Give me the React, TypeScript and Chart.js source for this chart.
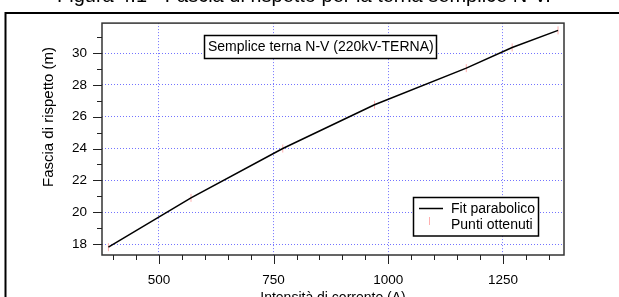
import React, { useEffect, useRef } from 'react';
import { Chart, registerables } from 'chart.js';

Chart.register(...registerables);

// ---- data ----
const currentA = [390, 570, 770, 970, 1170, 1270, 1370];
const fasciaM = [17.8, 20.9, 24.0, 26.75, 29.05, 30.35, 31.42];

const xTicks = [400, 450, 500, 550, 600, 650, 700, 750, 800, 850, 900, 950, 1000, 1050, 1100, 1150, 1200, 1250, 1300, 1350];
const xLabelTicks = [500, 750, 1000, 1250];
const yTicks = [18, 19, 20, 21, 22, 23, 24, 25, 26, 27, 28, 29, 30, 31];
const yLabelTicks = [18, 20, 22, 24, 26, 28, 30];

const pageTitle = 'Figura 4.1 - Fascia di rispetto per la terna semplice N-V.';
const boxTitle = 'Semplice terna N-V (220kV-TERNA)';
const legendLabels = ['Fit parabolico', 'Punti ottenuti'];
const xTitle = 'Intensità di corrente (A)';
const yTitle = 'Fascia di rispetto (m)';

const FONT = '"Liberation Sans", Arial, sans-serif';
const GRID_BLUE = 'rgba(90,90,255,0.85)';
const POINT_PINK = '#ffb0b0';

const decorPlugin = {
  id: 'decor',
  beforeDraw(chart: any) {
    const ctx = chart.ctx;
    ctx.save();
    ctx.fillStyle = '#fff';
    ctx.fillRect(0, 0, chart.width, chart.height);
    // outer frame lines
    ctx.strokeStyle = '#000';
    ctx.lineWidth = 2;
    ctx.beginPath();
    ctx.moveTo(4.5, 13);
    ctx.lineTo(chart.width, 13);
    ctx.moveTo(5.5, 12);
    ctx.lineTo(5.5, chart.height);
    ctx.stroke();
    // cut-off page title
    ctx.fillStyle = '#000';
    ctx.font = '20px ' + FONT;
    ctx.textAlign = 'left';
    ctx.textBaseline = 'alphabetic';
    ctx.fillText(pageTitle, 57, 1.5);
    ctx.restore();
  },
  afterDraw(chart: any) {
    const ctx = chart.ctx;
    const xs = chart.scales.x;
    const ys = chart.scales.y;
    const a = chart.chartArea;
    ctx.save();
    // plot frame
    ctx.strokeStyle = '#333';
    ctx.lineWidth = 1.5;
    ctx.strokeRect(a.left, a.top, a.right - a.left, a.bottom - a.top);
    // tick marks
    ctx.lineWidth = 1;
    ctx.strokeStyle = '#222';
    ctx.beginPath();
    xTicks.forEach((v) => {
      const px = Math.round(xs.getPixelForValue(v)) + 0.5;
      const len = xLabelTicks.includes(v) ? 9 : 5;
      ctx.moveTo(px, a.bottom);
      ctx.lineTo(px, a.bottom + len);
    });
    yTicks.forEach((v) => {
      const py = Math.round(ys.getPixelForValue(v)) + 0.5;
      const len = yLabelTicks.includes(v) ? 9 : 5;
      ctx.moveTo(a.left, py);
      ctx.lineTo(a.left - len, py);
    });
    ctx.stroke();

    // title box
    ctx.fillStyle = '#fff';
    ctx.fillRect(204.5, 35.5, 232, 23);
    ctx.strokeStyle = '#000';
    ctx.lineWidth = 1.5;
    ctx.strokeRect(204.5, 35.5, 232, 23);
    ctx.fillStyle = '#000';
    ctx.font = '14px ' + FONT;
    ctx.textAlign = 'left';
    ctx.textBaseline = 'middle';
    ctx.fillText(boxTitle, 208, 47.5);

    // legend box
    ctx.fillStyle = '#fff';
    ctx.fillRect(413.5, 197.5, 125, 38.5);
    ctx.strokeStyle = '#000';
    ctx.lineWidth = 1.5;
    ctx.strokeRect(413.5, 197.5, 125, 38.5);
    ctx.strokeStyle = '#000';
    ctx.lineWidth = 1.5;
    ctx.beginPath();
    ctx.moveTo(419, 208.5);
    ctx.lineTo(443, 208.5);
    ctx.stroke();
    ctx.strokeStyle = POINT_PINK;
    ctx.lineWidth = 1;
    ctx.beginPath();
    ctx.moveTo(429.5, 217);
    ctx.lineTo(429.5, 225);
    ctx.stroke();
    ctx.fillStyle = '#000';
    ctx.font = '14px ' + FONT;
    ctx.textBaseline = 'middle';
    ctx.fillText(legendLabels[0], 451, 209.5);
    ctx.fillText(legendLabels[1], 451, 225);

    // axis titles
    ctx.font = '14px ' + FONT;
    ctx.textAlign = 'center';
    ctx.textBaseline = 'alphabetic';
    ctx.fillText(xTitle, (a.left + a.right) / 2, 302);
    ctx.save();
    ctx.translate(53, 117);
    ctx.rotate(-Math.PI / 2);
    ctx.font = '15px ' + FONT;
    ctx.textBaseline = 'alphabetic';
    ctx.fillText(yTitle, 0, 0);
    ctx.restore();
    ctx.restore();
  },
};

export default function App() {
  const ref = useRef<HTMLCanvasElement | null>(null);
  useEffect(() => {
    if (!ref.current) return;
    const chart = new Chart(ref.current, {
      type: 'scatter',
      data: {
        datasets: [
          {
            label: legendLabels[0],
            data: currentA.map((x, i) => ({ x, y: fasciaM[i] })),
            showLine: true,
            borderColor: '#000',
            borderWidth: 1.5,
            pointRadius: 0,
            tension: 0,
          },
          {
            label: legendLabels[1],
            data: currentA.map((x, i) => ({ x, y: fasciaM[i] })),
            showLine: false,
            pointStyle: 'line',
            rotation: 90,
            pointRadius: 4,
            borderWidth: 1,
            borderColor: POINT_PINK,
            backgroundColor: POINT_PINK,
          },
        ],
      },
      options: {
        animation: false,
        responsive: false,
        devicePixelRatio: 1,
        layout: { padding: { left: 0, top: 22, right: 55, bottom: 0 } },
        plugins: { legend: { display: false }, title: { display: false }, tooltip: { enabled: false } },
        scales: {
          x: {
            type: 'linear',
            position: 'bottom',
            min: 376,
            max: 1383,
            afterBuildTicks: (scale: any) => {
              scale.ticks = xTicks.map((v) => ({ value: v }));
            },
            afterFit: (scale: any) => {
              scale.height = 42;
            },
            ticks: {
              autoSkip: false,
              maxRotation: 0,
              padding: 17,
              color: '#000',
              font: { family: FONT, size: 13.5 },
              callback: (v: any) => (xLabelTicks.includes(Number(v)) ? String(v) : ''),
            },
            grid: {
              drawTicks: false,
              lineWidth: 1,
              color: (c: any) => (c.tick && xLabelTicks.includes(c.tick.value) ? GRID_BLUE : 'rgba(0,0,0,0)'),
            },
            border: { display: false, dash: [1, 2] },
          },
          y: {
            type: 'linear',
            position: 'left',
            min: 17.31,
            max: 31.88,
            afterBuildTicks: (scale: any) => {
              scale.ticks = yTicks.map((v) => ({ value: v }));
            },
            afterFit: (scale: any) => {
              scale.width = 102;
            },
            ticks: {
              autoSkip: false,
              padding: 15,
              color: '#000',
              font: { family: FONT, size: 13.5 },
              callback: (v: any) => (yLabelTicks.includes(Number(v)) ? String(v) : ''),
            },
            grid: {
              drawTicks: false,
              lineWidth: 1,
              color: (c: any) => (c.tick && yLabelTicks.includes(c.tick.value) ? GRID_BLUE : 'rgba(0,0,0,0)'),
            },
            border: { display: false, dash: [1, 2] },
          },
        },
      },
      plugins: [decorPlugin],
    } as any);
    return () => chart.destroy();
  }, []);
  return (
    <div style={{ position: 'fixed', left: 0, top: 0, width: 619, height: 297, background: '#fff' }}>
      <canvas ref={ref} width={619} height={297} style={{ display: 'block', width: 619, height: 297 }} />
    </div>
  );
}
